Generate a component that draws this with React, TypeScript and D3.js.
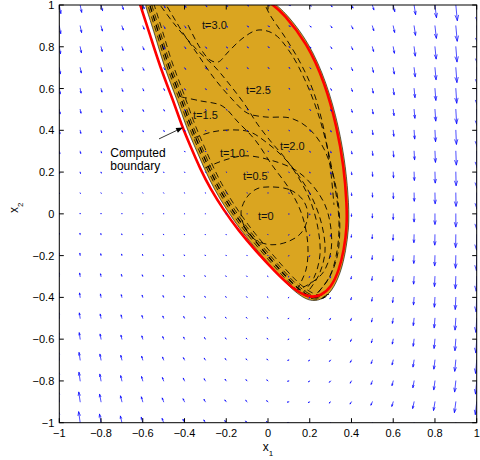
import React, { useEffect, useRef } from 'react';
import * as d3 from 'd3';

type Pt = [number, number];

// quiver grid
const gridX = [-1, -0.9, -0.8, -0.7, -0.6, -0.5, -0.4, -0.3, -0.2, -0.1, 0, 0.1, 0.2, 0.3, 0.4, 0.5, 0.6, 0.7, 0.8, 0.9, 1];
const gridY = [1, 0.9, 0.8, 0.7, 0.6, 0.5, 0.4, 0.3, 0.2, 0.1, 0, -0.1, -0.2, -0.3, -0.4, -0.5, -0.6, -0.7, -0.8, -0.9, -1];

// horizontal component, one value per row (rows follow gridY)
const fieldU = [1.5, 1.4, 1.2, 1.1, 0.9, 0.8, 0.6, 0.5, 0.3, 0.2, 0, -0.2, -0.3, -0.5, -0.6, -0.8, -0.9, -1.1, -1.2, -1.4, -1.5];

// vertical component, rows follow gridY, columns follow gridX
const fieldV = [
  [-8.5, -7.3, -5.7, -4.4, -3.6, -2.8, -2.3, -1.8, -1.4, -1.0, -0.8, -0.5, -1.1, -1.8, -3.0, -4.8, -6.6, -9.6, -12.6, -15.6, -18.6],
  [-7.7, -6.6, -5.1, -4.0, -3.3, -2.6, -2.1, -1.6, -1.2, -1.0, -0.7, -0.5, -1.1, -1.8, -3.0, -4.7, -6.5, -9.4, -12.4, -15.3, -18.3],
  [-6.9, -5.9, -4.6, -3.6, -3.0, -2.3, -1.8, -1.5, -1.1, -0.9, -0.7, -0.5, -1.0, -1.7, -2.9, -4.6, -6.4, -9.3, -12.2, -15.1, -18.0],
  [-6.1, -5.2, -4.1, -3.2, -2.6, -2.0, -1.6, -1.3, -1.0, -0.8, -0.6, -0.5, -1.0, -1.7, -2.9, -4.6, -6.3, -9.1, -12.0, -14.8, -17.7],
  [-5.3, -4.5, -3.5, -2.8, -2.3, -1.8, -1.4, -1.1, -0.9, -0.7, -0.5, -0.4, -1.0, -1.7, -2.8, -4.5, -6.2, -9.0, -11.8, -14.6, -17.4],
  [-4.4, -3.7, -2.9, -2.3, -1.9, -1.5, -1.2, -0.9, -0.7, -0.5, -0.4, -0.4, -1.0, -1.7, -2.8, -4.4, -6.1, -8.8, -11.6, -14.3, -17.1],
  [-3.5, -3.0, -2.3, -1.8, -1.5, -1.2, -0.9, -0.7, -0.6, -0.4, -0.3, -0.4, -1.0, -1.6, -2.7, -4.3, -5.9, -8.6, -11.3, -14.0, -16.7],
  [-2.5, -2.2, -1.7, -1.3, -1.1, -0.8, -0.7, -0.5, -0.4, -0.3, -0.2, -0.4, -1.0, -1.6, -2.7, -4.2, -5.8, -8.5, -11.1, -13.8, -16.4],
  [-1.5, -1.3, -1.0, -0.8, -0.7, -0.5, -0.4, -0.3, -0.2, -0.2, -0.1, -0.4, -0.9, -1.6, -2.6, -4.2, -5.7, -8.3, -10.9, -13.5, -16.1],
  [-0.5, -0.4, -0.3, -0.3, -0.2, -0.2, -0.1, -0.1, -0.1, -0.1, 0, -0.4, -0.9, -1.5, -2.6, -4.1, -5.6, -8.2, -10.7, -13.3, -15.8],
  [0.5, 0.5, 0.4, 0.3, 0.2, 0.2, 0.1, 0.1, 0.1, 0.1, 0.1, -0.4, -0.9, -1.5, -2.5, -4.0, -5.5, -8.0, -10.5, -13.0, -15.5],
  [1.6, 1.4, 1.1, 0.8, 0.7, 0.5, 0.4, 0.3, 0.3, 0.2, 0.2, -0.4, -0.9, -1.5, -2.5, -3.9, -5.4, -7.8, -10.3, -12.7, -15.2],
  [2.7, 2.3, 1.8, 1.4, 1.2, 0.9, 0.7, 0.6, 0.4, 0.3, 0.3, -0.4, -0.9, -1.4, -2.4, -3.8, -5.3, -7.7, -10.1, -12.5, -14.9],
  [3.8, 3.3, 2.6, 2.0, 1.6, 1.3, 1.0, 0.8, 0.6, 0.5, 0.4, -0.4, -0.8, -1.4, -2.4, -3.8, -5.2, -7.5, -9.9, -12.2, -14.6],
  [5.0, 4.3, 3.3, 2.6, 2.1, 1.7, 1.3, 1.0, 0.8, 0.6, 0.5, -0.4, -0.8, -1.4, -2.3, -3.7, -5.1, -7.4, -9.7, -12.0, -14.3],
  [6.2, 5.3, 4.1, 3.3, 2.7, 2.1, 1.7, 1.3, 1.0, 0.8, 0.6, -0.4, -0.8, -1.4, -2.3, -3.6, -5.0, -7.2, -9.5, -11.7, -14.0],
  [7.4, 6.4, 5.0, 3.9, 3.2, 2.5, 2.0, 1.6, 1.2, 0.9, 0.7, -0.4, -0.8, -1.3, -2.2, -3.5, -4.8, -7.0, -9.2, -11.4, -13.6],
  [8.7, 7.5, 5.8, 4.6, 3.7, 2.9, 2.3, 1.8, 1.4, 1.1, 0.8, -0.3, -0.8, -1.3, -2.2, -3.4, -4.7, -6.9, -9.0, -11.2, -13.3],
  [10.0, 8.6, 6.7, 5.2, 4.3, 3.3, 2.7, 2.1, 1.6, 1.2, 1.0, -0.3, -0.8, -1.3, -2.1, -3.4, -4.6, -6.7, -8.8, -10.9, -13.0],
  [11.3, 9.7, 7.5, 5.9, 4.9, 3.8, 3.0, 2.4, 1.8, 1.4, 1.1, -0.3, -0.7, -1.2, -2.1, -3.3, -4.5, -6.6, -8.6, -10.7, -12.7],
  [12.7, 10.9, 8.5, 6.6, 5.4, 4.2, 3.4, 2.7, 2.1, 1.6, 1.2, -0.3, -0.7, -1.2, -2.0, -3.2, -4.4, -6.4, -8.4, -10.4, -12.4],
];

// estimated region (filled) and computed boundary (red)
const regionOrange: Pt[] = [
  [-0.593, 1.029], [-0.589, 1.0], [-0.541, 0.856], [-0.498, 0.703], [-0.435, 0.545], [-0.392, 0.416],
  [-0.35, 0.32], [-0.305, 0.215], [-0.258, 0.118], [-0.2, 0.022], [-0.131, -0.078], [-0.048, -0.18],
  [0.043, -0.285], [0.124, -0.372], [0.2, -0.422], [0.258, -0.411], [0.306, -0.373], [0.349, -0.282],
  [0.373, -0.177], [0.388, -0.067], [0.388, 0.043], [0.373, 0.225], [0.34, 0.416], [0.282, 0.627],
  [0.196, 0.823], [0.081, 0.967], [0.033, 1.005], [0.01, 1.024],
];

const boundaryRed: Pt[] = [
  [-0.622, 1.029], [-0.612, 1.0], [-0.565, 0.856], [-0.517, 0.703], [-0.455, 0.545], [-0.411, 0.416],
  [-0.37, 0.32], [-0.325, 0.215], [-0.275, 0.118], [-0.215, 0.022], [-0.143, -0.078], [-0.058, -0.178],
  [0.035, -0.278], [0.12, -0.36], [0.198, -0.403], [0.254, -0.392], [0.301, -0.354], [0.34, -0.273],
  [0.364, -0.172], [0.378, -0.067], [0.378, 0.043], [0.364, 0.225], [0.33, 0.416], [0.273, 0.627],
  [0.187, 0.818], [0.072, 0.962], [0.024, 1.0], [-0.005, 1.019],
];

// level curves
const contourT0: Pt[] = [
  [0.01, 0.129], [0.105, 0.115], [0.167, 0.067], [0.191, -0.005], [0.163, -0.086], [0.105, -0.129],
  [0.019, -0.148], [-0.062, -0.124], [-0.11, -0.067], [-0.129, 0.01], [-0.1, 0.081], [-0.053, 0.12],
];
const contourT05: Pt[] = [
  [-0.301, 0.22], [-0.206, 0.258], [-0.11, 0.278], [0.01, 0.258], [0.129, 0.211], [0.211, 0.139],
  [0.273, 0.043], [0.301, -0.067], [0.301, -0.182], [0.263, -0.282], [0.191, -0.34], [0.134, -0.364],
];
const contourT10: Pt[] = [
  [-0.354, 0.364], [-0.268, 0.392], [-0.172, 0.402], [-0.086, 0.392], [-0.01, 0.344], [0.072, 0.273],
  [0.144, 0.187], [0.211, 0.077], [0.258, -0.053], [0.273, -0.182], [0.244, -0.292], [0.191, -0.373],
];
const contourT15: Pt[] = [
  [-0.416, 0.56], [-0.325, 0.541], [-0.22, 0.517], [-0.144, 0.44], [-0.062, 0.354], [0.019, 0.234],
  [0.105, 0.115], [0.163, -0.005], [0.191, -0.148], [0.182, -0.268], [0.144, -0.354],
];
const contourT20: Pt[] = [
  [-0.507, 1.033], [-0.407, 0.866], [-0.335, 0.761], [-0.263, 0.656], [-0.182, 0.56], [-0.1, 0.483],
  [-0.014, 0.464], [0.105, 0.459], [0.187, 0.416], [0.258, 0.33], [0.306, 0.211], [0.335, 0.067],
  [0.344, -0.077], [0.33, -0.211], [0.287, -0.316], [0.225, -0.392],
];
const contourT25: Pt[] = [
  [-0.541, 1.033], [-0.445, 0.904], [-0.34, 0.785], [-0.254, 0.703], [-0.182, 0.617], [-0.11, 0.522],
  [-0.048, 0.426], [0.019, 0.34], [0.081, 0.268], [0.144, 0.177], [0.201, 0.067], [0.239, -0.067],
  [0.249, -0.196], [0.22, -0.306], [0.167, -0.378],
];
const contourT25Right: Pt[] = [
  [-0.029, 1.033], [0.01, 0.952], [0.081, 0.847], [0.153, 0.727], [0.215, 0.593], [0.263, 0.426],
  [0.297, 0.234], [0.316, 0.043],
];
const contourT30: Pt[] = [
  [-0.383, 0.904], [-0.325, 0.794], [-0.278, 0.737], [-0.239, 0.727], [-0.191, 0.775], [-0.12, 0.842],
  [-0.048, 0.88], [0.029, 0.861], [0.105, 0.775], [0.177, 0.641], [0.239, 0.483], [0.287, 0.306],
  [0.321, 0.129], [0.34, -0.038], [0.33, -0.182], [0.297, -0.297], [0.239, -0.378],
];

const contourLabels = ['t=0', 't=0.5', 't=1.0', 't=1.5', 't=2.0', 't=2.5', 't=3.0'];
const contourLabelX = [-0.048, -0.12, -0.23, -0.359, 0.057, -0.105, -0.316];
const contourLabelY = [-0.029, 0.163, 0.273, 0.455, 0.306, 0.574, 0.885];

const noteLines = ['Computed', 'boundary'];
const noteX = -0.756;
const noteY = [0.273, 0.211];
const noteArrowFrom: Pt = [-0.522, 0.359];
const noteArrowTo: Pt = [-0.407, 0.414];

const tickValues = [-1, -0.8, -0.6, -0.4, -0.2, 0, 0.2, 0.4, 0.6, 0.8, 1];
const tickLabels = ['\u22121', '\u22120.8', '\u22120.6', '\u22120.4', '\u22120.2', '0', '0.2', '0.4', '0.6', '0.8', '1'];

export default function App() {
  const ref = useRef<SVGSVGElement>(null);

  useEffect(() => {
    const svg = d3.select(ref.current);
    svg.selectAll('*').remove();

    const font = '"Liberation Sans", Arial, Helvetica, sans-serif';
    const x = d3.scaleLinear().domain([-1, 1]).range([59.3, 476.7]);
    const y = d3.scaleLinear().domain([-1, 1]).range([422.7, 5]);

    svg.append('defs').append('clipPath').attr('id', 'plotArea')
      .append('rect')
      .attr('x', x(-1)).attr('y', y(1))
      .attr('width', x(1) - x(-1)).attr('height', y(-1) - y(1));

    const plot = svg.append('g').attr('clip-path', 'url(#plotArea)');

    const smoothClosed = d3.line<Pt>().x(d => x(d[0])).y(d => y(d[1])).curve(d3.curveBasisClosed);
    const smoothOpen = d3.line<Pt>().x(d => x(d[0])).y(d => y(d[1])).curve(d3.curveBasis);
    const closedLine = d3.line<Pt>().x(d => x(d[0])).y(d => y(d[1])).curve(d3.curveCatmullRomClosed);
    const openLine = d3.line<Pt>().x(d => x(d[0])).y(d => y(d[1])).curve(d3.curveCatmullRom);

    // filled region
    plot.append('path')
      .attr('d', smoothClosed(regionOrange))
      .attr('fill', '#daa520')
      .attr('stroke', '#000')
      .attr('stroke-width', 0.6);

    // dense dashed curves hugging the left/bottom edge
    const edge = regionOrange.slice(0, 16);
    [[2.5, 0.8], [4.5, 1.3], [6.5, 0.8], [9, 0.8]].forEach(([d, w]) => {
      plot.append('path')
        .attr('d', smoothOpen(edge))
        .attr('transform', `translate(${0.8 * d},${-0.6 * d})`)
        .attr('fill', 'none')
        .attr('stroke', '#000')
        .attr('stroke-width', w)
        .attr('stroke-dasharray', '6,4');
    });

    const dashed = (pts: Pt[], closed = false) => {
      plot.append('path')
        .attr('d', closed ? closedLine(pts) : openLine(pts))
        .attr('fill', 'none')
        .attr('stroke', '#000')
        .attr('stroke-width', 0.9)
        .attr('stroke-dasharray', '6,4');
    };
    dashed(contourT0, true);
    [contourT05, contourT10, contourT15, contourT20, contourT25, contourT25Right, contourT30].forEach(c => dashed(c));

    // computed boundary
    plot.append('path')
      .attr('d', smoothOpen(boundaryRed))
      .attr('fill', 'none')
      .attr('stroke', '#ff0000')
      .attr('stroke-width', 2.6);

    // quiver
    const quiverScale = 1 / 208.7;
    const alpha = 0.33, beta = 0.33;
    let qPath = '';
    gridY.forEach((gy, i) => {
      gridX.forEach((gx, j) => {
        const u = fieldU[i] * quiverScale;
        const v = fieldV[i][j] * quiverScale;
        const x0 = x(gx), y0 = y(gy);
        const x1 = x(gx + u), y1 = y(gy + v);
        const U = x1 - x0, V = y1 - y0;
        const hx1 = x1 - alpha * (U + beta * V), hy1 = y1 - alpha * (V - beta * U);
        const hx2 = x1 - alpha * (U - beta * V), hy2 = y1 - alpha * (V + beta * U);
        qPath += `M${x0},${y0}L${x1},${y1}M${hx1},${hy1}L${x1},${y1}L${hx2},${hy2}`;
      });
    });
    plot.append('path')
      .attr('d', qPath)
      .attr('fill', 'none')
      .attr('stroke', '#0000ff')
      .attr('stroke-width', 0.7)
      .attr('stroke-linecap', 'round')
      .attr('stroke-linejoin', 'round');

    // contour labels
    contourLabels.forEach((t, i) => {
      svg.append('text')
        .attr('x', x(contourLabelX[i]))
        .attr('y', y(contourLabelY[i]))
        .attr('font-family', font)
        .attr('font-size', 11)
        .attr('fill', '#111')
        .text(t);
    });

    // annotation
    noteLines.forEach((s, i) => {
      svg.append('text')
        .attr('x', x(noteX))
        .attr('y', y(noteY[i]))
        .attr('font-family', font)
        .attr('font-size', 12)
        .attr('fill', '#000')
        .text(s);
    });
    const ax0 = x(noteArrowFrom[0]), ay0 = y(noteArrowFrom[1]);
    const ax1 = x(noteArrowTo[0]), ay1 = y(noteArrowTo[1]);
    const ang = Math.atan2(ay1 - ay0, ax1 - ax0);
    const hl = 7, hw = 2.6;
    const bx = ax1 - hl * Math.cos(ang), by = ay1 - hl * Math.sin(ang);
    svg.append('line')
      .attr('x1', ax0).attr('y1', ay0).attr('x2', bx).attr('y2', by)
      .attr('stroke', '#000').attr('stroke-width', 0.8);
    svg.append('path')
      .attr('d', `M${ax1},${ay1}L${bx - hw * Math.sin(ang)},${by + hw * Math.cos(ang)}L${bx + hw * Math.sin(ang)},${by - hw * Math.cos(ang)}Z`)
      .attr('fill', '#000');

    // axes box and ticks
    const axes = svg.append('g');
    axes.append('rect')
      .attr('x', x(-1)).attr('y', y(1))
      .attr('width', x(1) - x(-1)).attr('height', y(-1) - y(1))
      .attr('fill', 'none').attr('stroke', '#000').attr('stroke-width', 1);
    const tl = 4.5;
    tickValues.forEach((t, i) => {
      axes.append('line').attr('x1', x(t)).attr('x2', x(t)).attr('y1', y(-1)).attr('y2', y(-1) - tl).attr('stroke', '#000');
      axes.append('line').attr('x1', x(t)).attr('x2', x(t)).attr('y1', y(1)).attr('y2', y(1) + tl).attr('stroke', '#000');
      axes.append('line').attr('y1', y(t)).attr('y2', y(t)).attr('x1', x(-1)).attr('x2', x(-1) + tl).attr('stroke', '#000');
      axes.append('line').attr('y1', y(t)).attr('y2', y(t)).attr('x1', x(1)).attr('x2', x(1) - tl).attr('stroke', '#000');
      axes.append('text')
        .attr('x', x(t)).attr('y', y(-1) + 14.5)
        .attr('text-anchor', 'middle')
        .attr('font-family', font).attr('font-size', 11).attr('fill', '#000')
        .text(tickLabels[i]);
      axes.append('text')
        .attr('x', x(-1) - 5).attr('y', y(t) + 4)
        .attr('text-anchor', 'end')
        .attr('font-family', font).attr('font-size', 11).attr('fill', '#000')
        .text(tickLabels[i]);
    });

    // axis labels
    const xl = axes.append('text')
      .attr('x', x(0)).attr('y', y(-1) + 28)
      .attr('text-anchor', 'middle')
      .attr('font-family', font).attr('font-size', 12).attr('fill', '#000');
    xl.append('tspan').text('x');
    xl.append('tspan').attr('dy', 5).attr('font-size', 8).text('1');

    const yl = axes.append('text')
      .attr('transform', `translate(18,${y(0) - 6}) rotate(-90)`)
      .attr('text-anchor', 'middle')
      .attr('font-family', font).attr('font-size', 12).attr('fill', '#000');
    yl.append('tspan').text('x');
    yl.append('tspan').attr('dy', 5).attr('font-size', 8).text('2');
  }, []);

  return (
    <svg ref={ref} width={480} height={460} style={{ position: 'absolute', left: 0, top: 0, background: '#fff' }} />
  );
}
